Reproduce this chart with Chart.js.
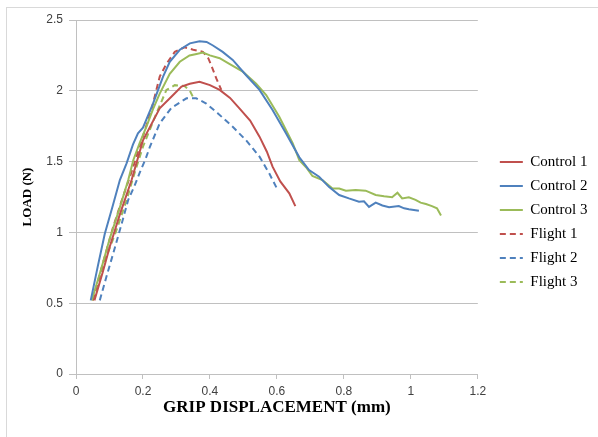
<!DOCTYPE html>
<html>
<head>
<meta charset="utf-8">
<script src="https://cdn.jsdelivr.net/npm/chart.js@4"></script>
<style>
  html, body { margin: 0; padding: 0; background: #ffffff; }
  #frame { position: absolute; left: 6px; top: 7px; width: 640px; height: 480px; border: 1px solid #d9d9d9; box-sizing: border-box; }
  #wrap { position: absolute; left: 0; top: 0; width: 598px; height: 437px; }
</style>
</head>
<body>
<div id="frame"></div>
<div id="wrap"><canvas id="c" width="598" height="437"></canvas></div>
<script>
// ---- data ----
const seriesNames = ['Control 1', 'Control 2', 'Control 3', 'Flight 1', 'Flight 2', 'Flight 3'];
const xTickLabels = ['0', '0.2', '0.4', '0.6', '0.8', '1', '1.2'];
const yTickLabels = ['0', '0.5', '1', '1.5', '2', '2.5'];

const control1X = [0.055, 0.08, 0.101, 0.13, 0.166, 0.2, 0.25, 0.29, 0.315, 0.34, 0.369, 0.40, 0.429, 0.46, 0.488, 0.52, 0.548, 0.57, 0.587, 0.61, 0.637, 0.655];
const control1Y = [0.52, 0.72, 0.90, 1.12, 1.37, 1.65, 1.876, 1.97, 2.03, 2.05, 2.064, 2.04, 2.006, 1.95, 1.876, 1.79, 1.676, 1.57, 1.464, 1.36, 1.276, 1.186];

const control2X = [0.044, 0.065, 0.086, 0.11, 0.131, 0.151, 0.17, 0.185, 0.20, 0.23, 0.26, 0.28, 0.31, 0.34, 0.369, 0.39, 0.409, 0.438, 0.468, 0.508, 0.548, 0.587, 0.627, 0.667, 0.696, 0.726, 0.756, 0.786, 0.815, 0.845, 0.86, 0.875, 0.895, 0.915, 0.935, 0.964, 0.98, 0.994, 1.024];
const control2Y = [0.52, 0.76, 0.99, 1.19, 1.37, 1.488, 1.62, 1.70, 1.74, 1.91, 2.10, 2.205, 2.29, 2.335, 2.35, 2.345, 2.32, 2.275, 2.218, 2.11, 2.006, 1.864, 1.70, 1.53, 1.44, 1.393, 1.32, 1.264, 1.24, 1.217, 1.22, 1.18, 1.21, 1.19, 1.177, 1.186, 1.17, 1.163, 1.153];

const control3X = [0.047, 0.075, 0.101, 0.13, 0.156, 0.171, 0.19, 0.21, 0.23, 0.25, 0.28, 0.31, 0.339, 0.36, 0.379, 0.40, 0.429, 0.458, 0.498, 0.538, 0.568, 0.607, 0.647, 0.667, 0.687, 0.706, 0.736, 0.766, 0.786, 0.806, 0.835, 0.865, 0.895, 0.92, 0.944, 0.96, 0.974, 0.994, 1.014, 1.029, 1.045, 1.063, 1.078, 1.09];
const control3Y = [0.52, 0.74, 0.958, 1.17, 1.37, 1.51, 1.63, 1.746, 1.87, 1.98, 2.12, 2.205, 2.25, 2.26, 2.27, 2.25, 2.23, 2.19, 2.135, 2.05, 1.97, 1.817, 1.63, 1.51, 1.46, 1.398, 1.37, 1.31, 1.31, 1.295, 1.30, 1.295, 1.264, 1.255, 1.248, 1.28, 1.24, 1.248, 1.23, 1.21, 1.20, 1.186, 1.17, 1.12];

const flight1X = [0.05, 0.08, 0.11, 0.14, 0.165, 0.19, 0.225, 0.25, 0.27, 0.295, 0.324, 0.35, 0.379, 0.395, 0.404, 0.419, 0.434];
const flight1Y = [0.52, 0.78, 1.03, 1.25, 1.42, 1.605, 1.864, 2.10, 2.19, 2.275, 2.307, 2.29, 2.275, 2.23, 2.18, 2.087, 2.006];

const flight2X = [0.071, 0.09, 0.111, 0.135, 0.156, 0.175, 0.19, 0.208, 0.22, 0.25, 0.285, 0.33, 0.359, 0.389, 0.424, 0.468, 0.508, 0.548, 0.577, 0.6];
const flight2Y = [0.52, 0.68, 0.85, 1.05, 1.23, 1.33, 1.42, 1.52, 1.60, 1.77, 1.88, 1.947, 1.947, 1.91, 1.84, 1.746, 1.65, 1.535, 1.417, 1.31];

const flight3X = [0.05, 0.08, 0.121, 0.15, 0.175, 0.2, 0.24, 0.27, 0.295, 0.324, 0.34, 0.354];
const flight3Y = [0.52, 0.76, 1.017, 1.22, 1.42, 1.605, 1.84, 2.006, 2.04, 2.034, 2.0, 1.935];

// ---- styling ----
const RED = '#C0504D', BLUE = '#4F81BD', GREEN = '#9BBB59';
const GRID = '#c0c0c0';
const DASH = [6, 4];

function pts(xs, ys) { return xs.map((x, i) => ({ x: x, y: ys[i] })); }
function ds(label, xs, ys, color, dash) {
  return {
    label: label, data: pts(xs, ys), borderColor: color, backgroundColor: color,
    borderWidth: 2, borderDash: dash, pointRadius: 0, pointHoverRadius: 0,
    showLine: true, tension: 0, fill: false
  };
}

const datasets = [
  ds(seriesNames[0], control1X, control1Y, RED, []),
  ds(seriesNames[1], control2X, control2Y, BLUE, []),
  ds(seriesNames[2], control3X, control3Y, GREEN, []),
  ds(seriesNames[3], flight1X, flight1Y, RED, DASH),
  ds(seriesNames[4], flight2X, flight2Y, BLUE, DASH),
  ds(seriesNames[5], flight3X, flight3Y, GREEN, DASH)
];

new Chart(document.getElementById('c'), {
  type: 'scatter',
  data: { datasets: datasets },
  options: {
    responsive: false,
    animation: false,
    devicePixelRatio: 1,
    layout: { padding: { left: 0, top: 7, right: 9, bottom: 0 } },
    plugins: {
      tooltip: { enabled: false },
      legend: {
        position: 'right',
        align: 'center',
        labels: {
          usePointStyle: true,
          pointStyle: 'line',
          pointStyleWidth: 23,
          padding: 9,
          color: '#000000',
          font: { family: '"Liberation Serif", "Times New Roman", serif', size: 15 },
          generateLabels: (chart) => {
            const items = Chart.defaults.plugins.legend.labels.generateLabels(chart);
            items.forEach((it) => {
              const d = chart.data.datasets[it.datasetIndex];
              it.lineDash = d.borderDash;
              it.lineWidth = d.borderWidth;
              it.strokeStyle = d.borderColor;
            });
            return items;
          }
        }
      }
    },
    scales: {
      x: {
        type: 'linear', position: 'bottom', min: 0, max: 1.2,
        afterFit: s => { s.height = 63; },
        ticks: {
          stepSize: 0.2, padding: 5, color: '#404040',
          font: { family: '"Liberation Sans", Arial, sans-serif', size: 12 },
          callback: (v, i) => xTickLabels[i]
        },
        grid: { display: true, drawOnChartArea: false, drawTicks: true, tickLength: 5, color: GRID },
        border: { display: true, color: GRID, width: 1 },
        title: {
          display: true, text: 'GRIP DISPLACEMENT (mm)', color: '#000000',
          font: { family: '"Liberation Serif", "Times New Roman", serif', size: 17, weight: 'bold' },
          padding: { top: 0, bottom: 19 }
        }
      },
      y: {
        type: 'linear', position: 'left', min: 0, max: 2.5,
        afterFit: s => { s.width = 76; },
        ticks: {
          stepSize: 0.5, padding: 6, color: '#404040',
          font: { family: '"Liberation Sans", Arial, sans-serif', size: 12 },
          callback: (v, i) => yTickLabels[i]
        },
        grid: { display: true, drawOnChartArea: true, drawTicks: true, tickLength: 7, color: GRID },
        border: { display: true, color: GRID, width: 1 },
        title: {
          display: true, text: 'LOAD (N)', color: '#000000',
          font: { family: '"Liberation Serif", "Times New Roman", serif', size: 13, weight: 'bold' },
          padding: { top: 20, bottom: 0 }
        }
      },
      gapTop: {
        type: 'linear', axis: 'x', position: 'top', display: true,
        afterFit: s => { s.height = 13; },
        ticks: { display: false }, grid: { display: false }, border: { display: false }
      },
      gapRight: {
        type: 'linear', axis: 'y', position: 'right', display: true,
        afterFit: s => { s.width = 13; },
        ticks: { display: false }, grid: { display: false }, border: { display: false }
      }
    }
  }
});
</script>
</body>
</html>
